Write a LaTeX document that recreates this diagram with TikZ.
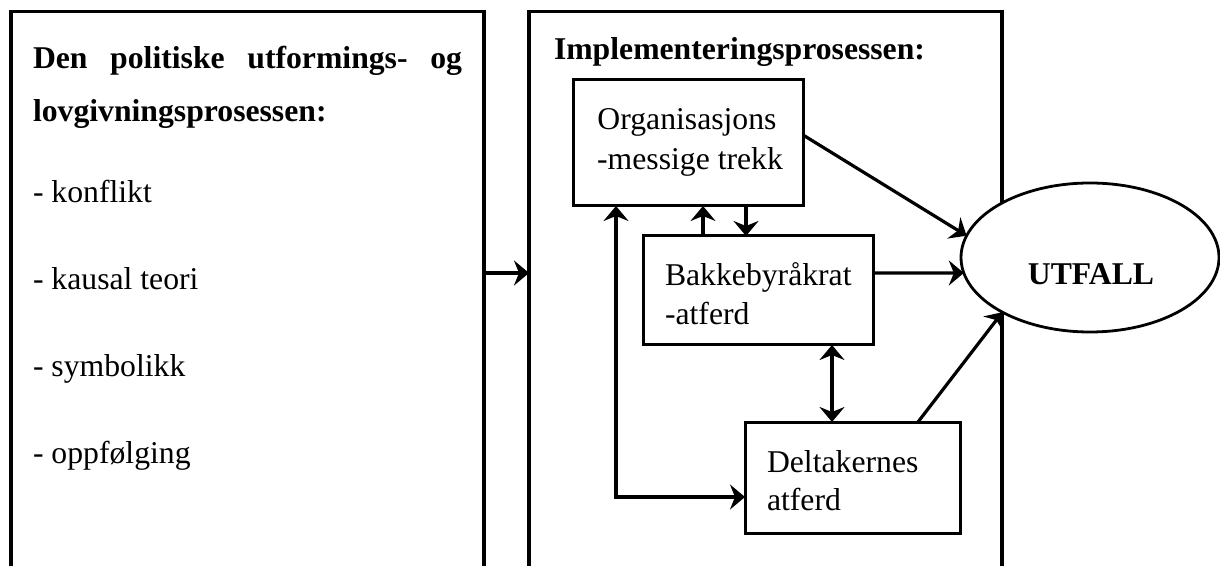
\documentclass[tikz,border=0pt]{standalone}
\usepackage{fontspec}
\setmainfont{Liberation Serif}
\usetikzlibrary{arrows.meta,shapes.geometric}
\begin{document}
\begin{tikzpicture}[x=0.5pt,y=-0.5pt,
  every node/.style={inner sep=0pt, outer sep=0pt},
  txt/.style={font=\fontsize{15.85pt}{19pt}\selectfont, anchor=base west},
  hd/.style={font=\fontsize{15.85pt}{19pt}\selectfont\bfseries, anchor=base west},
  frame/.style={draw, line width=1.7pt, rectangle, anchor=north west,
                minimum width=236.5pt, minimum height=320pt},
  stepbox/.style={draw, line width=1.5pt, rectangle},
  tip/.tip={Stealth[length=7.5pt,width=12.5pt,inset=2.5pt]},
  arr/.style={line width=1.6pt, -tip},
  biarr/.style={line width=1.6pt, tip-tip}
]
\useasboundingbox (0,0) rectangle (1220,566);
\clip (0,0) rectangle (1220,566);

% the two process frames (they run on past the lower edge)
\node[frame] (pol) at (11,11.5) {};
\node[frame] (impl) at (529,11.5) {};

% policy-making process
\node[hd] (polhA) at (33,69) {\makebox[214.5pt][s]{Den politiske utformings- og}};
\node[hd] (polhB) at (33,122) {lovgivningsprosessen:};
\node[txt] (itA) at (33,203) {- konflikt};
\node[txt] (itB) at (33,290) {- kausal teori};
\node[txt] (itC) at (33,377) {- symbolikk};
\node[txt] (itD) at (33,463) {- oppfølging};

% implementation process
\node[hd] (implh) at (554,60) {Implementeringsprosessen:};

\node[stepbox, minimum width=115pt, minimum height=63pt] (org) at (688,143) {};
\node[txt, anchor=base] (orgA) at (687,130) {Organisasjons};
\node[txt, anchor=base] (orgB) at (690,170) {-messige trekk};

\node[stepbox, minimum width=115pt, minimum height=54.5pt] (bakk) at (758,290.5) {};
\node[txt] (bakkA) at (665,286) {Bakkebyråkrat};
\node[txt] (bakkB) at (665,325) {-atferd};

\node[stepbox, minimum width=107.5pt, minimum height=55.5pt] (delt) at (852.5,477.5) {};
\node[txt] (deltA) at (767,473) {Deltakernes};
\node[txt] (deltB) at (767,510) {atferd};

\node[draw, fill=white, ellipse, line width=1.4pt,
      minimum width=129pt, minimum height=74.5pt] (utf) at (1090,257.5) {};
\node[hd, anchor=base] (utftxt) at (1091,285) {UTFALL};

% helper positions for the connectors
\coordinate (rowA) at (0,273);
\coordinate (xUp) at (703,0);
\coordinate (xDown) at (746,0);
\coordinate (xBi) at (832,0);
\coordinate (xOut) at (918,0);
\coordinate (loop) at (616,497);

% connectors
\draw[arr] (pol.east |- rowA) -- (impl.west |- rowA);
\draw[arr] (org.4.5) -- (utf.170);
\draw[arr] (bakk.east |- rowA) -- (utf.187);
\draw[arr] (delt.north -| xOut) -- (utf.212);
\draw[arr] (bakk.north -| xUp) -- (org.south -| xUp);
\draw[arr] (org.south -| xDown) -- (bakk.north -| xDown);
\draw[biarr] (bakk.south -| xBi) -- (delt.north -| xBi);
\draw[biarr] (org.south -| loop) -- (loop) -- (delt.west |- loop);
\end{tikzpicture}
\end{document}
